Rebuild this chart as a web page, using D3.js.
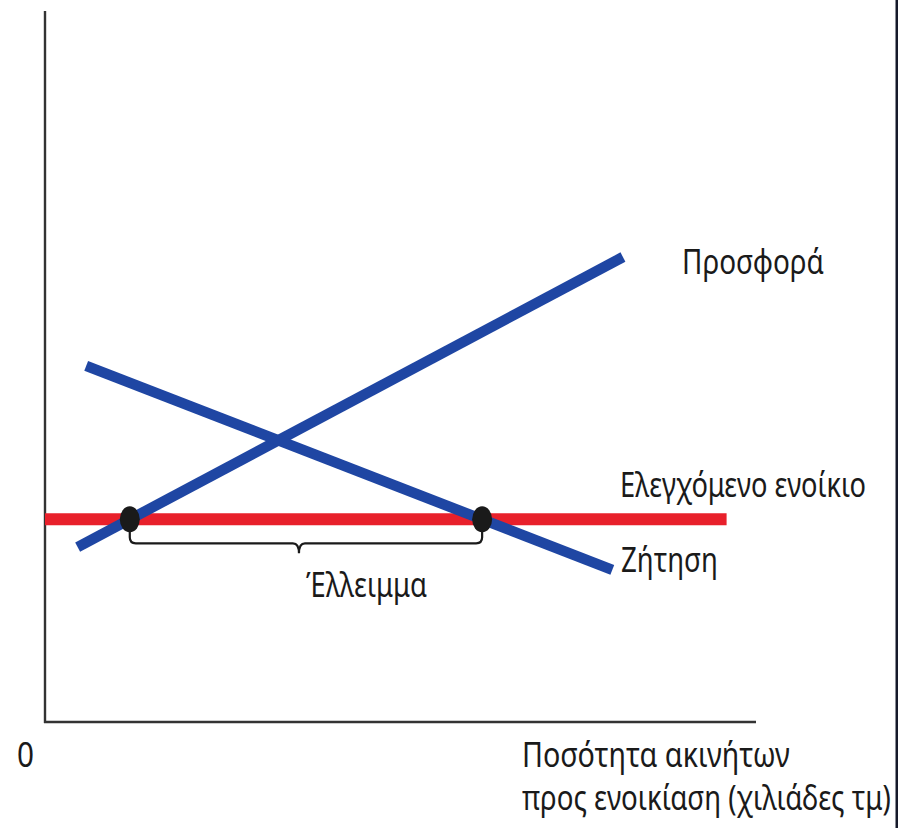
<!DOCTYPE html>
<html>
<head>
<meta charset="utf-8">
<script src="https://cdn.jsdelivr.net/npm/d3@7"></script>
<style>
  html, body { margin: 0; padding: 0; background: #ffffff; }
  svg { display: block; }
  text { font-family: "Noto Sans", "Open Sans", sans-serif; fill: #1a1a1a; }
</style>
</head>
<body>
<script>
// ---- data (quantity 0..100, price 0..100) ----
const supply = [{q: 4.6, p: 24.6}, {q: 81.4, p: 65.4}];
const demand = [{q: 5.8, p: 50.1}, {q: 79.9, p: 21.4}];
const rentCeiling = 28.5;
const ceilingRange = [0, 96];
const labels = {
  supply: "Προσφορά",
  demand: "Ζήτηση",
  ceiling: "Ελεγχόμενο ενοίκιο",
  shortage: "Έλλειμμα",
  origin: "0",
  xTitle: ["Ποσότητα ακινήτων", "προς ενοικίαση (χιλιάδες τμ)"]
};

const W = 898, H = 828;
const svg = d3.select("body").append("svg").attr("width", W).attr("height", H);

const x = d3.scaleLinear().domain([0, 100]).range([45, 755]);
const y = d3.scaleLinear().domain([0, 100]).range([722, 11]);

// right border strip
svg.append("rect").attr("x", 895.5).attr("y", 0).attr("width", 2.5).attr("height", H).attr("fill", "#15192a");

// axes
const axisColor = "#333333";
svg.append("line").attr("x1", x(0)).attr("x2", x(0)).attr("y1", y(100)).attr("y2", y(0) + 1)
  .attr("stroke", axisColor).attr("stroke-width", 2.4);
svg.append("line").attr("x1", x(0) - 1).attr("x2", x(100) + 1).attr("y1", y(0)).attr("y2", y(0))
  .attr("stroke", axisColor).attr("stroke-width", 2.4);

const line = d3.line().x(d => x(d.q)).y(d => y(d.p));

// rent ceiling (red)
svg.append("path")
  .attr("d", line(ceilingRange.map(q => ({q, p: rentCeiling}))))
  .attr("stroke", "#e8202b").attr("stroke-width", 12).attr("fill", "none");

// supply and demand (blue)
[supply, demand].forEach(s => {
  svg.append("path").attr("d", line(s))
    .attr("stroke", "#1f46a3").attr("stroke-width", 10.5).attr("fill", "none")
    .attr("stroke-linecap", "butt");
});

// intersections with the ceiling
function qAt(s, p) {
  const [a, b] = s;
  return a.q + (p - a.p) * (b.q - a.q) / (b.p - a.p);
}
const qS = qAt(supply, rentCeiling);
const qD = qAt(demand, rentCeiling);

// brace
const by = y(rentCeiling) + 24, r = 6;
const xl = x(qS), xr = x(qD), xm = (xl + xr) / 2 - 7;
const bp = d3.path();
bp.moveTo(xl, y(rentCeiling));
bp.lineTo(xl, by - r);
bp.quadraticCurveTo(xl, by, xl + r, by);
bp.lineTo(xm - 6, by);
bp.quadraticCurveTo(xm, by, xm, by + 10);
bp.quadraticCurveTo(xm, by, xm + 6, by);
bp.lineTo(xr - r, by);
bp.quadraticCurveTo(xr, by, xr, by - r);
bp.lineTo(xr, y(rentCeiling));
svg.append("path").attr("d", bp.toString()).attr("fill", "none")
  .attr("stroke", "#1a1a1a").attr("stroke-width", 2.2);

// dots
[qS, qD].forEach(q => {
  svg.append("ellipse").attr("cx", x(q)).attr("cy", y(rentCeiling))
    .attr("rx", 10).attr("ry", 13).attr("fill", "#1a1a1a");
});

// labels: horizontally condensed to match the narrow typeface of the original
function label(t, x0, yb, w, fs) {
  const g = svg.append("g");
  const el = g.append("text").attr("x", 0).attr("y", 0).attr("font-size", fs).text(t);
  const nat = el.node().getComputedTextLength();
  const sx = w / nat;
  g.attr("transform", `translate(${x0},${yb}) scale(${sx},1)`);
}
label(labels.supply, 682, 274, 142, 34);
label(labels.ceiling, 620, 497, 246, 34);
label(labels.demand, 621, 572, 97, 34);
label(labels.shortage, 306, 597, 121, 34);
label(labels.origin, 17, 767, 17, 35);
label(labels.xTitle[0], 522, 767, 268, 34);
label(labels.xTitle[1], 522, 810, 369, 34);
</script>
</body>
</html>
